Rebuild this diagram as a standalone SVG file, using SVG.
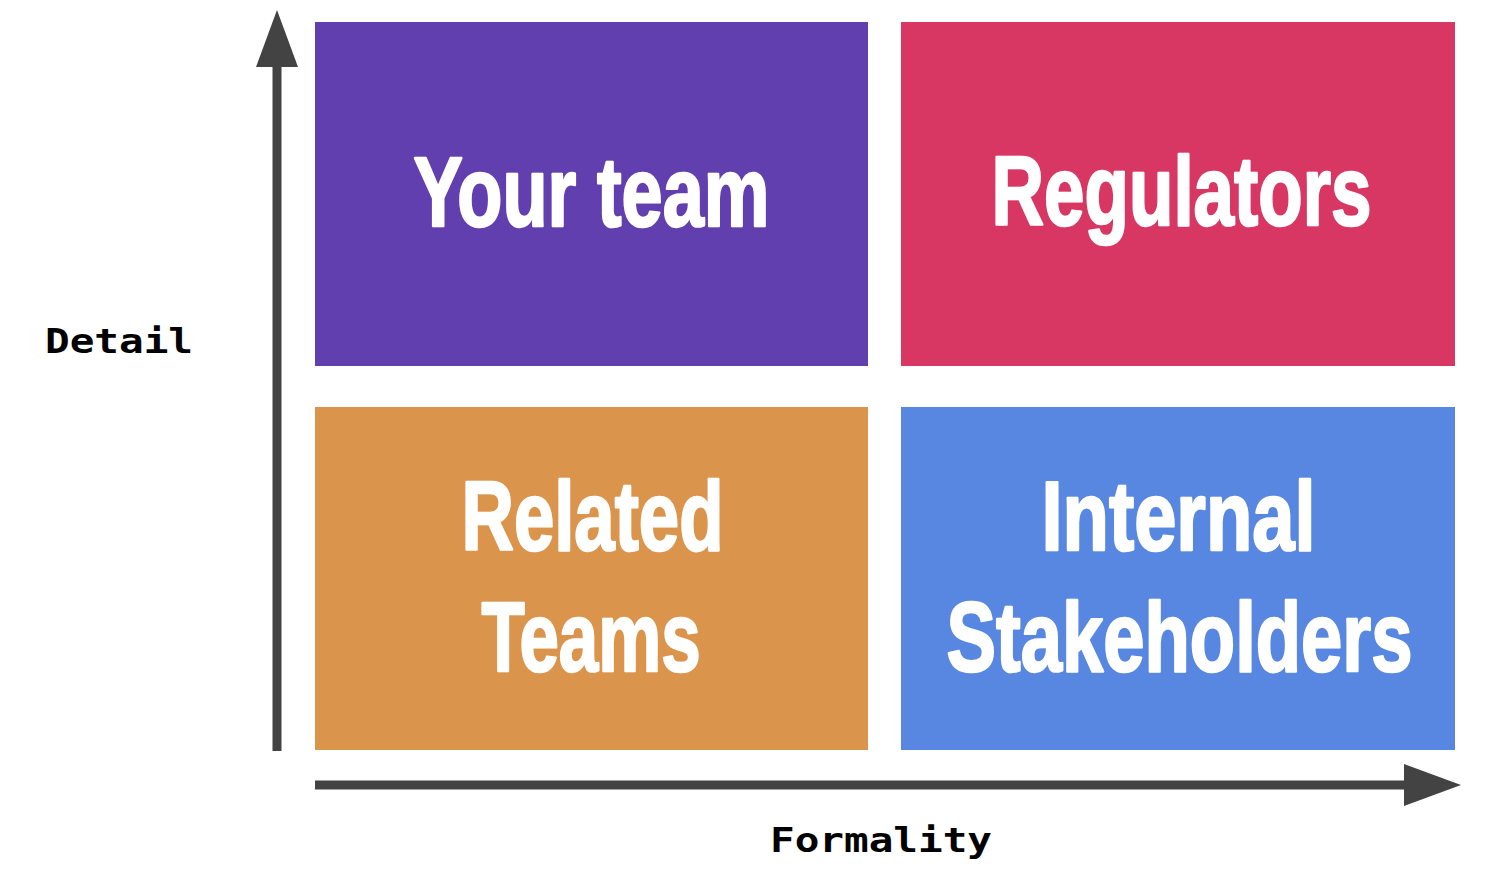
<svg xmlns="http://www.w3.org/2000/svg" width="1512" height="874" viewBox="0 0 1512 874">
  <style>
    .quad-label { font-family: "Liberation Sans Narrow", "Liberation Sans", "DejaVu Sans Condensed", sans-serif; font-weight: bold; font-size: 98px; fill: #ffffff; stroke: #ffffff; stroke-width: 2.5; stroke-linejoin: round; text-anchor: middle; }
    .axis-label { font-family: "DejaVu Sans Mono", "Liberation Mono", monospace; font-weight: bold; font-size: 34px; fill: #000000; }
    .axis { stroke: #434343; stroke-width: 9; fill: none; }
  </style>
  <defs>
    <marker id="axis-head" markerUnits="userSpaceOnUse" markerWidth="58" markerHeight="42" refX="0" refY="21" orient="auto" viewBox="0 0 58 42">
      <path d="M0,0 L57,21 L0,42 Z" fill="#434343"/>
    </marker>
  </defs>

  <rect width="1512" height="874" fill="#ffffff"/>

  <!-- axes -->
  <g id="connectors">
    <line class="axis" x1="277" y1="751" x2="277" y2="67" marker-end="url(#axis-head)"/>
    <line class="axis" x1="315" y1="785" x2="1404" y2="785" marker-end="url(#axis-head)"/>
  </g>

  <g id="axis-detail">
    <text class="axis-label" x="45" y="353" textLength="148" lengthAdjust="spacingAndGlyphs">Detail</text>
  </g>
  <g id="axis-formality">
    <text class="axis-label" x="770" y="852" textLength="222" lengthAdjust="spacingAndGlyphs">Formality</text>
  </g>

  <!-- quadrants -->
  <g id="your-team">
    <rect x="315" y="22" width="553" height="344" fill="#613fae"/>
    <text class="quad-label" x="591.5" y="226" textLength="356" lengthAdjust="spacingAndGlyphs">Your team</text>
  </g>
  <g id="regulators">
    <rect x="901" y="22" width="554" height="344" fill="#d93763"/>
    <text class="quad-label" x="1181.5" y="225" textLength="380" lengthAdjust="spacingAndGlyphs">Regulators</text>
  </g>
  <g id="related-teams">
    <rect x="315" y="407" width="553" height="343" fill="#db944c"/>
    <text class="quad-label" x="592.5" y="550" textLength="262" lengthAdjust="spacingAndGlyphs">Related</text>
    <text class="quad-label" x="591" y="671" textLength="219" lengthAdjust="spacingAndGlyphs">Teams</text>
  </g>
  <g id="internal-stakeholders">
    <rect x="901" y="407" width="554" height="343" fill="#5787e0"/>
    <text class="quad-label" x="1178.5" y="550" textLength="274" lengthAdjust="spacingAndGlyphs">Internal</text>
    <text class="quad-label" x="1179.5" y="671" textLength="466" lengthAdjust="spacingAndGlyphs">Stakeholders</text>
  </g>
</svg>
